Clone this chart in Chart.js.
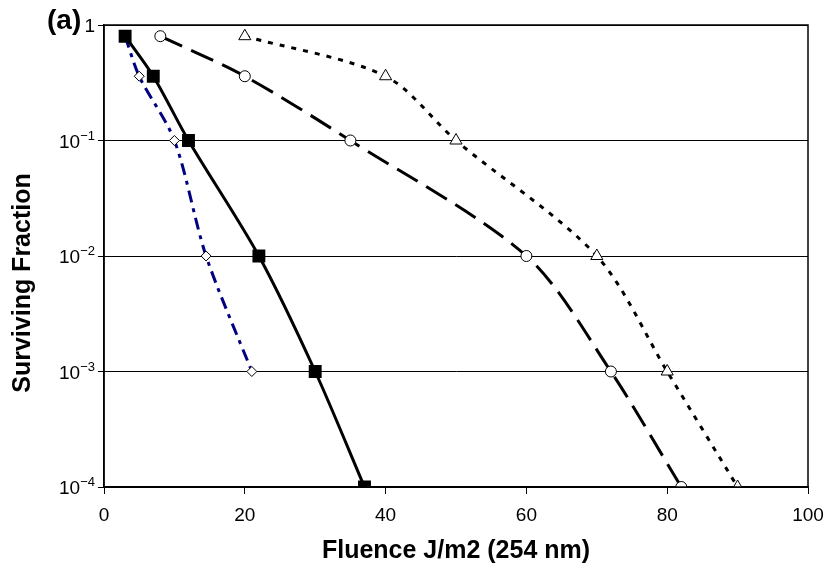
<!DOCTYPE html>
<html>
<head>
<meta charset="utf-8">
<script src="https://cdn.jsdelivr.net/npm/chart.js@4.4.0/dist/chart.umd.min.js"></script>
<style>
  html, body { margin: 0; padding: 0; background: #fff; }
  #wrap { width: 827px; height: 566px; }
</style>
</head>
<body>
<div id="wrap"><canvas id="survChart" width="827" height="566"></canvas></div>
<script>
// Survival curves, fluence vs surviving fraction (log scale)

const squareX = [3, 7, 12, 22, 30, 37];
const squareY = [0.8, 0.36, 0.1, 0.01, 0.001, 0.0001];

const diamondX = [3, 5, 10, 14.5, 21];
const diamondY = [0.8, 0.36, 0.1, 0.01, 0.001];

const circleX = [8, 20, 35, 60, 72, 82];
const circleY = [0.8, 0.36, 0.1, 0.01, 0.001, 0.0001];

const triangleX = [20, 40, 50, 70, 80, 90];
const triangleY = [0.8, 0.36, 0.1, 0.01, 0.001, 0.0001];

const xTicks = [0, 20, 40, 60, 80, 100];
const yTicks = [1, 0.1, 0.01, 0.001, 0.0001];
const yTickExp = ['', '\u22121', '\u22122', '\u22123', '\u22124'];

const FONT = '"Liberation Sans", Arial, sans-serif';

function toPoints(xs, ys) {
    return xs.map((x, i) => ({ x: x, y: ys[i] }));
}

// frame round the plot area, y tick labels with superscripts, y title, panel label
const framePlugin = {
    id: 'frame',
    afterDraw(chart) {
        const a = chart.chartArea;
        const ctx = chart.ctx;
        const yScale = chart.scales.y;
        ctx.save();
        ctx.strokeStyle = '#000';
        ctx.lineWidth = 1.5;
        ctx.strokeRect(a.left, a.top, a.right - a.left, a.bottom - a.top);

        ctx.fillStyle = '#000';
        ctx.textBaseline = 'alphabetic';
        yTicks.forEach((v, i) => {
            const py = yScale.getPixelForValue(v);
            const right = a.left - 9;
            if (v === 1) {
                ctx.font = '19px ' + FONT;
                ctx.textAlign = 'right';
                ctx.fillText('1', right, py + 7);
                return;
            }
            ctx.font = '13px ' + FONT;
            const expW = ctx.measureText(yTickExp[i]).width;
            ctx.textAlign = 'right';
            ctx.fillText(yTickExp[i], right, py - 1);
            ctx.font = '19px ' + FONT;
            ctx.fillText('10', right - expW, py + 7);
        });

        // y axis title, sits a bit below the plot centre as in the original
        ctx.save();
        ctx.translate(23, 283);
        ctx.rotate(-Math.PI / 2);
        ctx.font = 'bold 25px ' + FONT;
        ctx.textAlign = 'center';
        ctx.textBaseline = 'middle';
        ctx.fillText('Surviving Fraction', 0, 0);
        ctx.restore();

        ctx.font = 'bold 28px ' + FONT;
        ctx.textAlign = 'left';
        ctx.textBaseline = 'middle';
        ctx.fillText('(a)', 47, 21);
        ctx.restore();
    }
};

const ctx = document.getElementById('survChart').getContext('2d');

new Chart(ctx, {
    type: 'line',
    data: {
        datasets: [
            {
                label: 'squares',
                data: toPoints(squareX, squareY),
                borderColor: '#000',
                borderWidth: 3,
                pointStyle: 'rect',
                pointRadius: 7,
                pointBackgroundColor: '#000',
                pointBorderColor: '#000',
                tension: 0.3
            },
            {
                label: 'diamonds',
                data: toPoints(diamondX, diamondY),
                borderColor: '#000080',
                borderWidth: 3,
                borderDash: [12, 6, 4, 6],
                pointStyle: 'rectRot',
                pointRadius: 5,
                pointBackgroundColor: '#fff',
                pointBorderColor: '#000',
                pointBorderWidth: 1,
                tension: 0.3
            },
            {
                label: 'circles',
                data: toPoints(circleX, circleY),
                borderColor: '#000',
                borderWidth: 3,
                borderDash: [24, 10],
                pointStyle: 'circle',
                pointRadius: 5.5,
                pointBackgroundColor: '#fff',
                pointBorderColor: '#000',
                pointBorderWidth: 1,
                tension: 0.3
            },
            {
                label: 'triangles',
                data: toPoints(triangleX, triangleY),
                borderColor: '#000',
                borderWidth: 3,
                borderDash: [5, 7],
                pointStyle: 'triangle',
                pointRadius: 7,
                pointBackgroundColor: '#fff',
                pointBorderColor: '#000',
                pointBorderWidth: 1,
                tension: 0.3
            }
        ]
    },
    options: {
        responsive: false,
        animation: false,
        layout: { padding: { top: 25, right: 19, left: 0, bottom: 0 } },
        plugins: {
            legend: { display: false },
            tooltip: { enabled: false }
        },
        scales: {
            x: {
                type: 'linear',
                min: 0,
                max: 100,
                afterBuildTicks(axis) {
                    axis.ticks = xTicks.map(v => ({ value: v }));
                },
                afterFit(axis) {
                    axis.height = 79;
                    axis.paddingLeft = 0;
                    axis.paddingRight = 0;
                },
                grid: { drawOnChartArea: false, drawTicks: true, tickLength: 7, color: '#000' },
                border: { color: '#000', width: 1.5 },
                ticks: {
                    color: '#000',
                    font: { size: 19, family: FONT },
                    padding: 10
                },
                title: {
                    display: true,
                    text: 'Fluence J/m2 (254 nm)',
                    color: '#000',
                    font: { size: 25, weight: 'bold', family: FONT },
                    padding: { top: 0, bottom: 0 }
                }
            },
            y: {
                type: 'logarithmic',
                min: 0.0001,
                max: 1,
                afterBuildTicks(axis) {
                    axis.ticks = yTicks.map(v => ({ value: v }));
                },
                afterFit(axis) {
                    axis.width = 104;
                    axis.paddingTop = 0;
                    axis.paddingBottom = 0;
                },
                grid: { drawOnChartArea: true, drawTicks: true, tickLength: 6, color: '#000', lineWidth: 1 },
                border: { color: '#000', width: 1.5 },
                ticks: { display: false },
                title: { display: false }
            }
        }
    },
    plugins: [framePlugin]
});
</script>
</body>
</html>
